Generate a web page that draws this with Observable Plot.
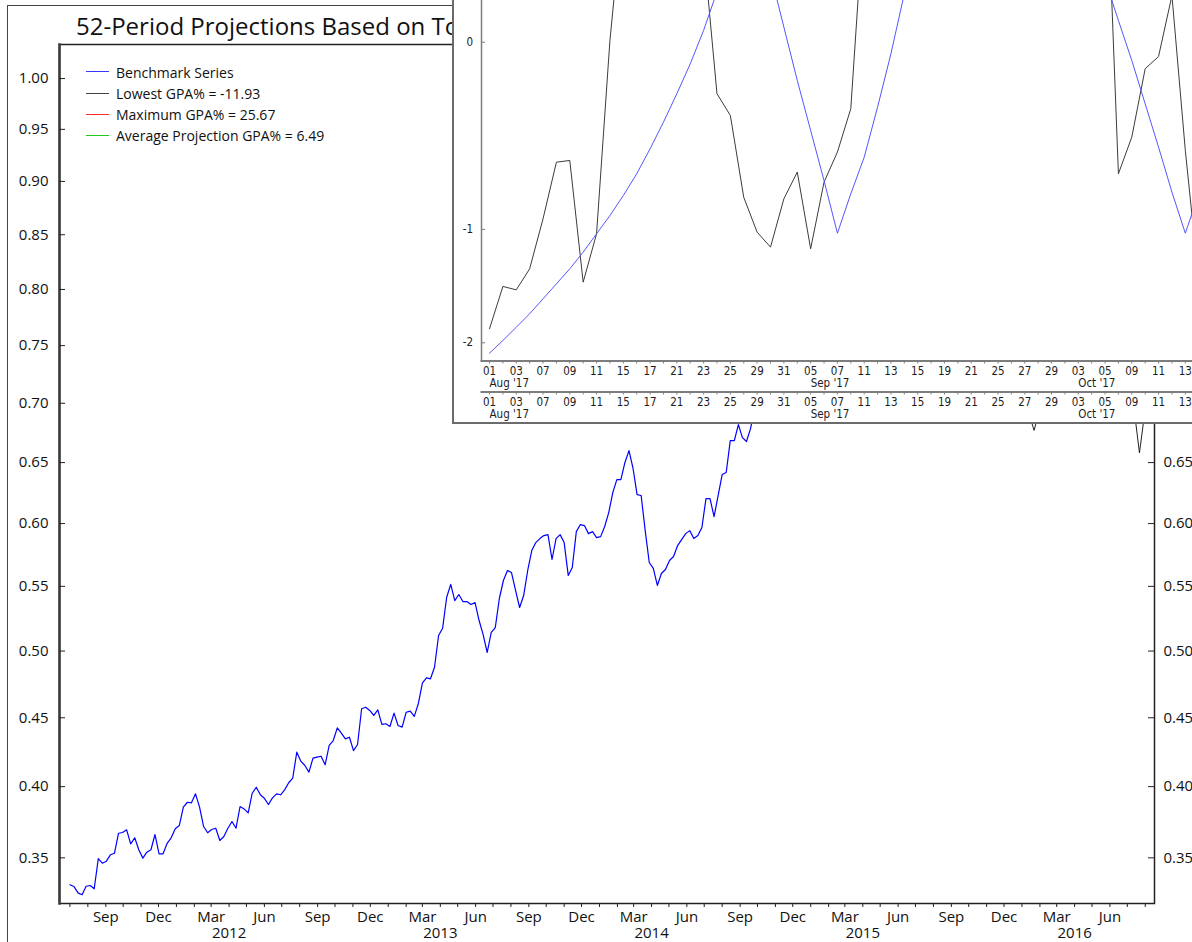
<!DOCTYPE html>
<html>
<head>
<meta charset="utf-8">
<script src="https://cdn.jsdelivr.net/npm/d3@7"></script>
<script src="https://cdn.jsdelivr.net/npm/@observablehq/plot@0.6"></script>
<style>
  html, body { margin: 0; padding: 0; background: #fff; }
  body { width: 1192px; height: 942px; overflow: hidden; position: relative; font-family: 'Open Sans', sans-serif; }
  #outer { position: absolute; left: 7px; top: 5px; width: 1300px; height: 1000px; border-left: 1.5px solid #444; border-top: 1.5px solid #444; z-index: 0; }
  #main { position: absolute; left: 0; top: 0; z-index: 1; }
  #main svg, #inset svg { max-width: none !important; }
  #title { position: absolute; left: 76px; top: 9px; width: 376px; height: 36px; overflow: hidden; font-size: 24px; line-height: 34px; color: #111; white-space: nowrap; z-index: 2; }
  #legend { position: absolute; left: 0; top: 0; z-index: 2; }
  .sw { position: absolute; left: 86px; width: 23px; height: 1px; }
  .lt { position: absolute; left: 116px; font-size: 14px; line-height: 14px; color: #111; white-space: nowrap; }
  #inset { position: absolute; left: 452px; top: 0; width: 800px; height: 422px; border-left: 2px solid #6b6b6b; border-bottom: 2px solid #6b6b6b; background: #fff; overflow: hidden; z-index: 5; }
</style>
</head>
<body>
<div id="outer"></div>
<div id="main"></div>
<div id="title">52-Period Projections Based on To</div>
<div id="legend"></div>
<div id="inset"></div>
<script>
// ---------------- Main chart data (weekly, starting 2011-07-01) ----------------
const seriesStart = "2011-07-01";
const benchmark = [
  0.3315, 0.3303, 0.3260, 0.3247, 0.3305, 0.3310, 0.3288, 0.3494, 0.3463, 0.3477,
  0.3521, 0.3532, 0.3671, 0.3676, 0.3695, 0.3597, 0.3639, 0.3556, 0.3498, 0.3539,
  0.3556, 0.3662, 0.3528, 0.3528, 0.3601, 0.3639, 0.3702, 0.3725, 0.3854, 0.3889,
  0.3885, 0.3949, 0.3854, 0.3718, 0.3674, 0.3697, 0.3706, 0.3620, 0.3648, 0.3706,
  0.3753, 0.3706, 0.3859, 0.3842, 0.3814, 0.3953, 0.3996, 0.3942, 0.3917, 0.3873,
  0.3920, 0.3949, 0.3942, 0.3977, 0.4028, 0.4061, 0.4248, 0.4183, 0.4152, 0.4104,
  0.4205, 0.4212, 0.4219, 0.4157, 0.4297, 0.4333, 0.4426, 0.4387, 0.4345, 0.4357,
  0.4260, 0.4304, 0.4567, 0.4578, 0.4554, 0.4517, 0.4559, 0.4451, 0.4456, 0.4436,
  0.4534, 0.4443, 0.4431, 0.4541, 0.4549, 0.4510, 0.4604, 0.4757, 0.4797, 0.4790,
  0.4877, 0.5119, 0.5175, 0.5415, 0.5515, 0.5389, 0.5436,
  0.5381, 0.5381, 0.5358, 0.5373, 0.5234, 0.5126, 0.4989, 0.5142, 0.5180, 0.5405,
  0.5546, 0.5625, 0.5609, 0.5468, 0.5335, 0.5428, 0.5625, 0.5783, 0.5847, 0.5879,
  0.5903, 0.5911, 0.5712, 0.5879, 0.5911, 0.5847, 0.5586, 0.5649, 0.5935, 0.5992,
  0.5984, 0.5919, 0.5935, 0.5887, 0.5895, 0.5976, 0.6089, 0.6252, 0.6359, 0.6359,
  0.6501, 0.6600, 0.6451, 0.6236, 0.6228, 0.5943, 0.5688, 0.5641, 0.5507, 0.5601,
  0.5633, 0.5704, 0.5736, 0.5823, 0.5871, 0.5919, 0.5943, 0.5879, 0.5903, 0.5968,
  0.6203, 0.6203, 0.6056, 0.6228, 0.6401, 0.6418, 0.6684, 0.6684, 0.6819, 0.6709,
  0.6676, 0.6785,
  0.695, 0.705, 0.698, 0.712, 0.720, 0.708, 0.702, 0.715, 0.728, 0.735,
  0.730, 0.742, 0.750, 0.745, 0.738, 0.752, 0.760, 0.748, 0.738, 0.745,
  0.755, 0.765, 0.772, 0.768, 0.780, 0.788, 0.775, 0.770, 0.782, 0.795,
  0.802, 0.798, 0.810, 0.805, 0.792, 0.800, 0.812, 0.820, 0.815, 0.808,
  0.818, 0.825, 0.815, 0.805, 0.798, 0.792, 0.800
];
// 52-period projections, starting at the last benchmark value
const lowestProjection = [
  0.800, 0.790, 0.775, 0.782, 0.768, 0.755, 0.762, 0.748, 0.735, 0.742,
  0.730, 0.718, 0.725, 0.712, 0.705, 0.715, 0.722, 0.710, 0.698, 0.705,
  0.695, 0.700, 0.688, 0.677, 0.690, 0.702, 0.715, 0.708, 0.720, 0.732,
  0.725, 0.738, 0.745, 0.735, 0.728, 0.740, 0.732, 0.722, 0.715, 0.725,
  0.718, 0.708, 0.715, 0.702, 0.695, 0.705, 0.698, 0.690, 0.686, 0.658,
  0.684, 0.695, 0.7046
];
const maximumProjection = [
  0.800, 0.812, 0.825, 0.818, 0.835, 0.848, 0.840, 0.858, 0.870, 0.862,
  0.880, 0.892, 0.885, 0.898, 0.910, 0.902, 0.915, 0.925, 0.918, 0.930,
  0.942, 0.935, 0.948, 0.955, 0.945, 0.958, 0.968, 0.960, 0.972, 0.965,
  0.978, 0.985, 0.975, 0.988, 0.995, 0.985, 0.978, 0.990, 1.000, 0.992,
  0.985, 0.995, 1.005, 0.998, 0.990, 1.002, 1.012, 1.005, 0.995, 1.000,
  1.010, 1.002, 1.0054
];
const averageProjection = [
  0.800, 0.803, 0.806, 0.804, 0.808, 0.811, 0.809, 0.813, 0.816, 0.814,
  0.818, 0.821, 0.819, 0.822, 0.825, 0.823, 0.826, 0.829, 0.827, 0.830,
  0.832, 0.830, 0.833, 0.835, 0.833, 0.836, 0.838, 0.836, 0.839, 0.841,
  0.839, 0.842, 0.843, 0.841, 0.844, 0.846, 0.844, 0.846, 0.848, 0.846,
  0.848, 0.849, 0.847, 0.849, 0.850, 0.848, 0.850, 0.851, 0.849, 0.851,
  0.852, 0.851, 0.852
];
const legendLabels = ["Benchmark Series", "Lowest GPA% = -11.93", "Maximum GPA% = 25.67", "Average Projection GPA% = 6.49"];
const legendColors = ["#3a3aff", "#404040", "#ff2a2a", "#1ec81e"];
const yTicks = [0.35, 0.40, 0.45, 0.50, 0.55, 0.60, 0.65, 0.70, 0.75, 0.80, 0.85, 0.90, 0.95, 1.00];
const yTickLabels = ["0.35", "0.40", "0.45", "0.50", "0.55", "0.60", "0.65", "0.70", "0.75", "0.80", "0.85", "0.90", "0.95", "1.00"];
const quarterTickDates = ["2011-09-01","2011-12-01","2012-03-01","2012-06-01","2012-09-01","2012-12-01","2013-03-01","2013-06-01","2013-09-01","2013-12-01","2014-03-01","2014-06-01","2014-09-01","2014-12-01","2015-03-01","2015-06-01","2015-09-01","2015-12-01","2016-03-01","2016-06-01"];
const quarterTickLabels = ["Sep","Dec","Mar","Jun","Sep","Dec","Mar","Jun","Sep","Dec","Mar","Jun","Sep","Dec","Mar","Jun","Sep","Dec","Mar","Jun"];
const yearTickDates = ["2012-04-01","2013-04-01","2014-04-01","2015-04-01","2016-04-01"];
const yearTickLabels = ["2012","2013","2014","2015","2016"];
const xDomain = ["2011-06-13", "2016-08-17"];
const yDomain = [0.3188, 1.0342];

// ---------------- Inset data (trading days Aug 1 - Oct 16, 2017) ----------------
const tradingDays = ["2017-08-01","2017-08-02","2017-08-03","2017-08-04","2017-08-07","2017-08-08","2017-08-09","2017-08-10","2017-08-11","2017-08-14","2017-08-15","2017-08-16","2017-08-17","2017-08-18","2017-08-21","2017-08-22","2017-08-23","2017-08-24","2017-08-25","2017-08-28","2017-08-29","2017-08-30","2017-08-31","2017-09-01","2017-09-05","2017-09-06","2017-09-07","2017-09-08","2017-09-11","2017-09-12","2017-09-13","2017-09-14","2017-09-15","2017-09-18","2017-09-19","2017-09-20","2017-09-21","2017-09-22","2017-09-25","2017-09-26","2017-09-27","2017-09-28","2017-09-29","2017-10-02","2017-10-03","2017-10-04","2017-10-05","2017-10-06","2017-10-09","2017-10-10","2017-10-11","2017-10-12","2017-10-13","2017-10-16"];
const insetBlack = [
  -1.855, -1.455, -1.485, -1.305, -0.925, -0.566, -0.556, -1.418, -1.032, 0.0065,
  0.68, 0.80, 0.70, 0.90, 0.75, 0.60, 0.42, -0.215, -0.318, -0.780,
  -1.020, -1.132, -0.790, -0.624, -1.145, -0.685, -0.509, -0.285, 0.65, 0.90,
  1.1, 1.3, 1.0, 1.2, 1.4, 1.1, 0.9, 1.2, 1.5, 1.3,
  1.0, 1.2, 1.4, 1.6, 1.3, 1.5, 1.23, -0.634, -0.428, -0.106,
  -0.056, 0.193, -0.500, -1.403
];
const insetBlue = [
  -2.113, -1.976, -1.839, -1.706, -1.566, -1.432, -1.305, -1.171, -1.032, -0.902,
  -0.769, -0.634, -0.491, -0.351, -0.215, -0.086, 0.046, 0.21, 0.55, 0.70,
  0.55, 0.294, 0.059, -0.156, -0.393, -0.675, -1.028, -0.758, -0.538, -0.278,
  -0.045, 0.201, 0.5, 0.8, 1.0, 1.2, 1.3, 1.4, 1.4, 1.3,
  1.2, 1.0, 0.8, 0.6, 0.45, 0.35, 0.266, 0.086, -0.072, -0.262,
  -0.482, -0.747, -1.028, -0.758
];
const insetYTicks = [0, -1, -2];
const insetYTickLabels = ["0", "-1", "-2"];
const insetYDomain = [-2.2, 0.171];
const insetXDomain = [-0.598, 57.17];

// ---------------- Build tables ----------------
const t0 = new Date(seriesStart);
const weekDate = i => d3.utcDay.offset(t0, 7 * i);
const benchRows = benchmark.map((v, i) => ({date: weekDate(i), value: v}));
const p0 = benchmark.length - 1;
const projRows = (arr) => arr.map((v, i) => ({date: weekDate(p0 + i), value: v}));
const lowRows = projRows(lowestProjection);
const maxRows = projRows(maximumProjection);
const avgRows = projRows(averageProjection);
const qDates = quarterTickDates.map(s => new Date(s));
const yrDates = yearTickDates.map(s => new Date(s));
const xd = xDomain.map(s => new Date(s));
const monthTicks = d3.utcMonth.range(d3.utcMonth.ceil(xd[0]), xd[1]);

const main = Plot.plot({
  width: 1192, height: 942,
  marginLeft: 59, marginRight: 38, marginTop: 44, marginBottom: 39,
  style: {fontFamily: "'Open Sans', sans-serif", fontSize: "15px", color: "#111", background: "transparent", overflow: "visible", maxWidth: "none"},
  x: {type: "utc", domain: xd, label: null},
  y: {type: "symlog", constant: 1.12, domain: yDomain, label: null},
  marks: [
    Plot.line(avgRows, {x: "date", y: "value", stroke: "#00c000", strokeWidth: 1}),
    Plot.line(maxRows, {x: "date", y: "value", stroke: "#ff0000", strokeWidth: 1}),
    Plot.line(lowRows, {x: "date", y: "value", stroke: "#222", strokeWidth: 1}),
    Plot.line(benchRows, {x: "date", y: "value", stroke: "#0000ff", strokeWidth: 1.2}),
    Plot.frame({stroke: "#222", strokeWidth: 1.5}),
    Plot.frame({anchor: "left", stroke: "#3a3a3a", strokeWidth: 2.5}),
    Plot.axisY(yTicks, {anchor: "left", tickSize: 6, dx: 6, tickPadding: 11, stroke: "#222",
      tickFormat: d => yTickLabels[yTicks.indexOf(d)]}),
    Plot.axisY(yTicks, {anchor: "right", tickSize: 7, dx: -7, tickPadding: 9, stroke: "#222",
      tickFormat: d => yTickLabels[yTicks.indexOf(d)]}),
    Plot.axisX(monthTicks, {anchor: "bottom", tickSize: 4, stroke: "#222", tickFormat: () => ""}),
    Plot.axisX(qDates, {anchor: "bottom", tickSize: 0, tickPadding: 7.5,
      tickFormat: d => quarterTickLabels[qDates.findIndex(q => +q === +d)]}),
    Plot.axisX(yrDates, {anchor: "bottom", tickSize: 0, tickPadding: 24,
      tickFormat: d => yearTickLabels[yrDates.findIndex(q => +q === +d)]})
  ]
});
document.getElementById("main").append(main);

// legend
const leg = document.getElementById("legend");
const swTops = [71, 93, 114, 135];
const txTops = [66, 87, 108, 129];
legendLabels.forEach((lab, i) => {
  const s = document.createElement("div");
  s.className = "sw"; s.style.top = swTops[i] + "px"; s.style.background = legendColors[i];
  const t = document.createElement("div");
  t.className = "lt"; t.style.top = txTops[i] + "px"; t.textContent = lab;
  leg.append(s, t);
});

// ---------------- Inset ----------------
const insetRows = tradingDays.map((d, i) => ({i, black: insetBlack[i], blue: insetBlue[i]}));
const dayFmt = d3.utcFormat("%d");
const monFmt = d3.utcFormat("%b '%y");
const tdDates = tradingDays.map(s => new Date(s));
const labelIdx = d3.range(0, tradingDays.length - 1, 2);
const monthIdx = labelIdx.filter((i, k) => k === 0 || tdDates[i].getUTCMonth() !== tdDates[labelIdx[k - 1]].getUTCMonth());
const allIdx = d3.range(tradingDays.length);
const axisGray = "#7d7d7d";
const insetFont = "'Liberation Sans Narrow', 'DejaVu Sans Condensed', 'Arial Narrow', sans-serif";
const dayAxis = (dy) => [
  Plot.axisX(allIdx, {anchor: "bottom", tickSize: 3, dy, stroke: axisGray, tickFormat: () => ""}),
  Plot.axisX(labelIdx, {anchor: "bottom", tickSize: 0, tickPadding: 6, dy, fill: "#1c1c1c",
    tickFormat: i => dayFmt(tdDates[i])}),
  Plot.axisX(monthIdx, {anchor: "bottom", tickSize: 0, tickPadding: 17.5, dy, fill: "#1c1c1c", textAnchor: "start",
    tickFormat: i => monFmt(tdDates[i])})
];
const inset = Plot.plot({
  width: 800, height: 422,
  marginLeft: 27, marginRight: 0, marginTop: 0, marginBottom: 61.5,
  style: {fontFamily: insetFont, fontSize: "11.5px", color: "#1c1c1c", background: "#fff", maxWidth: "none"},
  x: {type: "linear", domain: insetXDomain, label: null},
  y: {type: "symlog", constant: 1.12, domain: insetYDomain, label: null},
  marks: [
    Plot.line(insetRows, {x: "i", y: "black", stroke: "#3c3c3c", strokeWidth: 1, clip: true}),
    Plot.line(insetRows, {x: "i", y: "blue", stroke: "#5656ff", strokeWidth: 1, clip: true}),
    Plot.frame({anchor: "left", stroke: axisGray, strokeWidth: 1.5}),
    Plot.frame({anchor: "bottom", stroke: axisGray, strokeWidth: 2}),
    Plot.frame({anchor: "bottom", insetBottom: -31, stroke: axisGray, strokeWidth: 2}),
    Plot.axisY(insetYTicks, {anchor: "left", tickSize: 4, dx: 4, tickPadding: 8.5, stroke: axisGray, fill: "#1c1c1c",
      tickFormat: d => insetYTickLabels[insetYTicks.indexOf(d)]}),
    ...dayAxis(0),
    ...dayAxis(31)
  ]
});
document.getElementById("inset").append(inset);
</script>
</body>
</html>
